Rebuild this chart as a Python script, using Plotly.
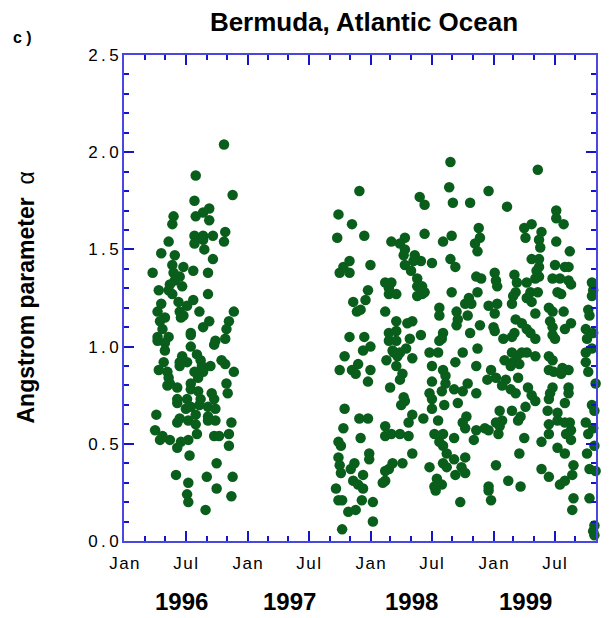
import numpy as np
import pandas as pd
import plotly.graph_objects as go

# (decimal year, Angstrom alpha)
obs_1996 = [
    (1996.81, 2.04), (1996.58, 1.88), (1996.88, 1.78), (1996.57, 1.75), (1996.69, 1.71),
    (1996.64, 1.69), (1996.58, 1.67), (1996.69, 1.65), (1996.40, 1.67), (1996.39, 1.63),
    (1996.82, 1.59), (1996.81, 1.54), (1996.57, 1.57), (1996.64, 1.57), (1996.72, 1.57),
    (1996.57, 1.53), (1996.64, 1.55), (1996.36, 1.54), (1996.30, 1.48), (1996.41, 1.47),
    (1996.65, 1.50), (1996.72, 1.45), (1996.39, 1.42), (1996.23, 1.38), (1996.48, 1.41),
    (1996.40, 1.38), (1996.56, 1.39), (1996.68, 1.38), (1996.45, 1.36), (1996.41, 1.34),
    (1996.37, 1.32), (1996.47, 1.31), (1996.28, 1.29), (1996.36, 1.29), (1996.39, 1.27),
    (1996.68, 1.27), (1996.44, 1.23), (1996.56, 1.24), (1996.51, 1.21), (1996.30, 1.22),
    (1996.27, 1.18), (1996.45, 1.18), (1996.48, 1.16), (1996.61, 1.18), (1996.89, 1.18),
    (1996.33, 1.15), (1996.29, 1.13), (1996.46, 1.15), (1996.85, 1.13), (1996.69, 1.13),
    (1996.64, 1.10), (1996.83, 1.09), (1996.31, 1.09), (1996.54, 1.07), (1996.27, 1.05),
    (1996.36, 1.05), (1996.82, 1.04), (1996.74, 1.03), (1996.27, 1.03), (1996.33, 1.02),
    (1996.54, 1.06), (1996.54, 1.00), (1996.73, 1.01), (1996.33, 0.98), (1996.47, 0.95),
    (1996.59, 0.96), (1996.32, 0.92), (1996.45, 0.92), (1996.51, 0.92), (1996.62, 0.93),
    (1996.79, 0.93), (1996.28, 0.88), (1996.45, 0.90), (1996.70, 0.90), (1996.82, 0.91),
    (1996.63, 0.90), (1996.35, 0.87), (1996.57, 0.87), (1996.64, 0.87), (1996.89, 0.87),
    (1996.36, 0.84), (1996.60, 0.84), (1996.37, 0.81), (1996.54, 0.81), (1996.83, 0.81),
    (1996.35, 0.80), (1996.43, 0.79), (1996.54, 0.78), (1996.60, 0.77), (1996.84, 0.76),
    (1996.71, 0.76), (1996.43, 0.73), (1996.51, 0.73), (1996.62, 0.73), (1996.73, 0.73),
    (1996.43, 0.71), (1996.61, 0.70), (1996.68, 0.69), (1996.50, 0.68), (1996.74, 0.68),
    (1996.26, 0.65), (1996.54, 0.69), (1996.58, 0.65), (1996.68, 0.64), (1996.45, 0.63),
    (1996.52, 0.62), (1996.68, 0.62), (1996.74, 0.62), (1996.43, 0.61), (1996.58, 0.60),
    (1996.87, 0.61), (1996.25, 0.57), (1996.59, 0.55), (1996.31, 0.54), (1996.73, 0.54),
    (1996.77, 0.54), (1996.85, 0.55), (1996.29, 0.52), (1996.37, 0.52), (1996.52, 0.52),
    (1996.46, 0.51), (1996.43, 0.48), (1996.85, 0.49), (1996.53, 0.44), (1996.75, 0.40),
    (1996.42, 0.34), (1996.67, 0.33), (1996.88, 0.33), (1996.52, 0.30), (1996.75, 0.27),
    (1996.51, 0.24), (1996.87, 0.23), (1996.52, 0.20), (1996.66, 0.16),
]

obs_1998 = [
    (1998.65, 1.95), (1998.64, 1.82), (1998.67, 1.74), (1997.91, 1.80), (1998.40, 1.77),
    (1998.44, 1.73), (1997.74, 1.68), (1997.85, 1.63), (1997.73, 1.56), (1997.95, 1.57),
    (1998.44, 1.58), (1998.17, 1.54), (1998.28, 1.56), (1998.24, 1.53), (1998.28, 1.50),
    (1998.27, 1.47), (1998.59, 1.54), (1998.66, 1.57), (1998.36, 1.47), (1998.35, 1.44),
    (1998.41, 1.44), (1998.50, 1.43), (1998.28, 1.42), (1998.33, 1.39), (1997.83, 1.44),
    (1997.78, 1.41), (1997.75, 1.38), (1997.83, 1.38), (1998.00, 1.42), (1998.65, 1.45),
    (1998.38, 1.35), (1998.38, 1.31), (1998.42, 1.31), (1998.44, 1.28), (1998.38, 1.26),
    (1998.42, 1.27), (1998.12, 1.33), (1998.17, 1.33), (1998.15, 1.30), (1998.15, 1.27),
    (1998.21, 1.27), (1997.98, 1.29), (1997.96, 1.24), (1997.86, 1.23), (1997.89, 1.18),
    (1997.92, 1.19), (1998.12, 1.18), (1998.21, 1.13), (1998.30, 1.12), (1998.34, 1.13),
    (1998.56, 1.20), (1998.56, 1.16), (1998.66, 1.28), (1997.83, 1.05), (1997.95, 1.05),
    (1998.15, 1.07), (1998.21, 1.08), (1998.32, 1.04), (1998.41, 1.06), (1998.59, 1.07),
    (1998.58, 1.04), (1998.00, 1.00), (1997.94, 0.98), (1998.15, 1.03), (1998.21, 1.03),
    (1998.56, 1.03), (1998.18, 0.98), (1998.24, 0.97), (1998.29, 0.99), (1998.19, 0.97),
    (1998.22, 0.95), (1998.48, 0.97), (1998.55, 0.97), (1997.79, 0.95), (1998.13, 0.93),
    (1998.34, 0.94), (1998.21, 0.90), (1997.75, 0.88), (1997.85, 0.88), (1997.90, 0.91),
    (1997.88, 0.86), (1998.00, 0.88), (1997.98, 0.82), (1998.26, 0.86), (1998.24, 0.83),
    (1998.50, 0.90), (1998.59, 0.88), (1998.61, 0.85), (1998.50, 0.82), (1998.61, 0.81),
    (1998.16, 0.79), (1998.48, 0.76), (1998.58, 0.77), (1998.50, 0.73), (1998.27, 0.74),
    (1998.28, 0.72), (1998.25, 0.70), (1998.60, 0.70), (1997.79, 0.68), (1998.50, 0.68),
    (1998.34, 0.65), (1997.91, 0.63), (1997.98, 0.63), (1998.43, 0.63), (1998.55, 0.62),
    (1998.31, 0.61), (1998.12, 0.59), (1997.78, 0.58), (1998.52, 0.55), (1998.59, 0.55),
    (1998.12, 0.54), (1998.17, 0.55), (1998.24, 0.55), (1998.31, 0.54), (1997.92, 0.53),
    (1998.56, 0.51), (1997.74, 0.51), (1997.76, 0.49), (1998.59, 0.49), (1998.62, 0.45),
    (1998.34, 0.45), (1997.99, 0.45), (1997.99, 0.42), (1997.74, 0.43), (1997.87, 0.40),
    (1998.18, 0.40), (1998.26, 0.40), (1997.75, 0.39), (1997.84, 0.37), (1998.59, 0.40),
    (1998.62, 0.38), (1998.48, 0.38), (1997.76, 0.35), (1997.94, 0.34), (1998.12, 0.36),
    (1998.15, 0.37), (1997.86, 0.31), (1997.90, 0.29), (1997.94, 0.27), (1998.12, 0.31),
    (1998.10, 0.30), (1998.54, 0.32), (1998.58, 0.29), (1998.52, 0.28), (1998.53, 0.26),
    (1997.72, 0.27), (1997.74, 0.21), (1997.77, 0.21), (1997.93, 0.21), (1998.02, 0.20),
    (1997.82, 0.15), (1997.88, 0.16), (1998.02, 0.10), (1997.77, 0.06),
]

obs_1999 = [
    (1998.81, 1.74), (1998.96, 1.80), (1999.11, 1.72), (1999.36, 1.91), (1999.51, 1.70),
    (1999.51, 1.66), (1999.57, 1.63), (1999.85, 1.61), (1999.25, 1.61), (1999.31, 1.63),
    (1999.26, 1.56), (1999.39, 1.59), (1999.37, 1.55), (1999.51, 1.54), (1998.88, 1.61),
    (1998.89, 1.56), (1998.85, 1.53), (1998.87, 1.49), (1999.38, 1.51), (1999.62, 1.49),
    (1999.31, 1.45), (1999.37, 1.45), (1998.69, 1.41), (1999.50, 1.42), (1999.58, 1.41),
    (1999.61, 1.41), (1999.37, 1.41), (1999.35, 1.39), (1999.37, 1.36), (1998.86, 1.36),
    (1998.90, 1.35), (1999.01, 1.38), (1999.02, 1.34), (1999.03, 1.31), (1999.17, 1.37),
    (1999.19, 1.33), (1999.27, 1.33), (1999.34, 1.35), (1999.48, 1.35), (1999.54, 1.35),
    (1999.61, 1.34), (1999.63, 1.32), (1999.80, 1.33), (1999.81, 1.29), (1999.80, 1.26),
    (1998.87, 1.28), (1998.80, 1.25), (1998.77, 1.22), (1998.82, 1.22), (1999.18, 1.28),
    (1999.16, 1.26), (1999.15, 1.22), (1999.30, 1.28), (1999.36, 1.28), (1999.27, 1.25),
    (1999.31, 1.23), (1999.52, 1.28), (1999.55, 1.27), (1999.03, 1.22), (1998.96, 1.21),
    (1998.70, 1.18), (1998.79, 1.16), (1999.01, 1.17), (1999.34, 1.17), (1999.45, 1.20),
    (1999.48, 1.18), (1999.57, 1.18), (1999.77, 1.19), (1999.78, 1.16), (1998.71, 1.14),
    (1999.18, 1.14), (1999.23, 1.12), (1999.46, 1.13), (1999.48, 1.10), (1999.63, 1.12),
    (1999.58, 1.09), (1998.70, 1.11), (1998.89, 1.11), (1999.00, 1.10), (1999.01, 1.08),
    (1999.27, 1.09), (1999.75, 1.09), (1998.81, 1.07), (1999.17, 1.07), (1999.15, 1.05),
    (1999.30, 1.07), (1999.48, 1.06), (1999.81, 1.07), (1999.08, 1.04), (1999.34, 1.04),
    (1999.50, 1.04), (1999.76, 1.04), (1999.87, 1.04), (1998.75, 0.97), (1998.87, 0.99),
    (1998.69, 0.92), (1998.86, 0.90), (1998.98, 0.88), (1999.09, 0.93), (1999.15, 0.97),
    (1999.19, 0.95), (1999.23, 0.97), (1999.27, 0.97), (1999.34, 0.95), (1999.16, 0.92),
    (1999.21, 0.91), (1999.14, 0.90), (1999.45, 0.95), (1999.48, 0.93), (1999.45, 0.88),
    (1999.49, 0.87), (1999.56, 0.89), (1999.61, 0.88), (1999.55, 0.86), (1999.75, 0.97),
    (1999.80, 0.99), (1999.75, 0.92), (1999.77, 0.87), (1999.87, 0.88), (1998.95, 0.83),
    (1999.02, 0.84), (1999.10, 0.83), (1999.07, 0.80), (1999.14, 0.78), (1999.18, 0.76),
    (1998.79, 0.81), (1998.68, 0.78), (1998.75, 0.77), (1998.86, 0.76), (1999.20, 0.84),
    (1999.28, 0.79), (1999.31, 0.75), (1999.34, 0.72), (1999.48, 0.79), (1999.46, 0.76),
    (1999.45, 0.73), (1999.61, 0.79), (1999.61, 0.76), (1999.58, 0.71), (1999.83, 0.81),
    (1998.71, 0.71), (1999.26, 0.69), (1999.15, 0.67), (1999.05, 0.67), (1999.44, 0.67),
    (1999.52, 0.66), (1999.80, 0.70), (1999.82, 0.67), (1998.78, 0.64), (1998.75, 0.61),
    (1998.77, 0.58), (1999.22, 0.64), (1999.20, 0.62), (1999.02, 0.61), (1999.07, 0.62),
    (1999.05, 0.59), (1999.04, 0.55), (1998.93, 0.58), (1998.96, 0.57), (1998.86, 0.57),
    (1998.84, 0.52), (1999.45, 0.60), (1999.45, 0.55), (1999.52, 0.62), (1999.58, 0.61),
    (1999.62, 0.61), (1999.63, 0.57), (1999.59, 0.55), (1999.63, 0.52), (1999.25, 0.53),
    (1999.39, 0.51), (1999.75, 0.61), (1999.77, 0.55), (1999.81, 0.58), (1999.82, 0.49),
    (1998.68, 0.53), (1998.68, 0.42), (1998.77, 0.43), (1998.74, 0.38), (1998.69, 0.34),
    (1998.77, 0.35), (1999.21, 0.45), (1999.02, 0.39), (1999.52, 0.48), (1999.58, 0.45),
    (1999.39, 0.37), (1999.45, 0.33), (1999.65, 0.39), (1999.64, 0.34), (1999.76, 0.45),
    (1999.78, 0.37), (1999.83, 0.36), (1999.12, 0.31), (1998.96, 0.28), (1999.22, 0.28),
    (1998.96, 0.26), (1999.54, 0.29), (1999.58, 0.31), (1998.98, 0.21), (1998.73, 0.20),
    (1999.65, 0.22), (1999.78, 0.22), (1999.85, 0.21), (1999.64, 0.16), (1999.82, 0.08),
    (1999.81, 0.05), (1999.82, 0.03),
]

x_tick_dates = ["1996-01-01", "1996-07-01", "1997-01-01", "1997-07-01",
                "1998-01-01", "1998-07-01", "1999-01-01", "1999-07-01"]
x_tick_text = ["Jan", "Jul", "Jan", "Jul", "Jan", "Jul", "Jan", "Jul"]
y_tick_vals = [0.0, 0.5, 1.0, 1.5, 2.0, 2.5]
year_labels = ["1996", "1997", "1998", "1999"]
year_label_pos = ["1996-06-18", "1997-05-05", "1998-05-01", "1999-04-05"]


def to_dates(dec_years):
    y = np.asarray(dec_years)
    return pd.Timestamp("1996-01-01") + pd.to_timedelta((y - 1996) * 365.25, unit="D")


def spaced(s, sep="\u2009"):
    # the original labels are set with loose letter spacing
    return sep.join(s)


pts = obs_1996 + obs_1998 + obs_1999
x = to_dates([p[0] for p in pts])
alpha = [p[1] for p in pts]

fig = go.Figure()
fig.add_trace(go.Scatter(
    x=x, y=alpha, mode="markers", cliponaxis=False,
    marker=dict(size=10.5, color="#0a5e1b", line=dict(width=0)),
    showlegend=False,
))

axis_blue = "#4848e0"
tick_blue = "#1414c8"
font_family = "Liberation Sans, Arial, sans-serif"

fig.update_layout(
    width=607, height=610,
    margin=dict(l=116, r=19, t=47, b=77, autoexpand=False),
    paper_bgcolor="white", plot_bgcolor="white",
    font=dict(family=font_family, color="black"),
    title=dict(text="<b>Bermuda, Atlantic Ocean</b>", x=0.5865, xanchor="center",
               y=0.978, yanchor="middle", font=dict(size=26, color="black")),
    xaxis=dict(
        type="date", range=["1995-12-31", "1999-11-01"],
        tickvals=x_tick_dates, ticktext=[spaced(t, "\u200a") for t in x_tick_text],
        ticks="inside", ticklen=10, tickwidth=2, tickcolor=tick_blue,
        minor=dict(dtick="M2", tick0="1996-01-01", ticks="inside", ticklen=5,
                   tickwidth=2, tickcolor=tick_blue),
        showline=True, linecolor=axis_blue, linewidth=2, mirror="ticks",
        showgrid=False, zeroline=False, automargin=False,
        ticklabelstandoff=6,
        tickfont=dict(size=17, color="black"),
    ),
    yaxis=dict(
        range=[0, 2.5],
        tickvals=y_tick_vals, ticktext=[spaced(f"{v:.1f}") for v in y_tick_vals],
        ticks="inside", ticklen=10, tickwidth=2, tickcolor=tick_blue,
        minor=dict(dtick=0.1, ticks="inside", ticklen=5, tickwidth=2, tickcolor=tick_blue),
        showline=True, linecolor=axis_blue, linewidth=2, mirror="ticks",
        showgrid=False, zeroline=False, automargin=False,
        tickfont=dict(size=17, color="black"),
    ),
)

annotations = [
    dict(text="<b>c )</b>", xref="paper", yref="paper", x=-0.216, y=1.037,
         xanchor="center", yanchor="middle", showarrow=False, font=dict(size=16)),
    dict(text="<b>Angstrom parameter</b>  α", xref="paper", yref="paper",
         x=-0.2076, y=0.501, xanchor="center", yanchor="middle", textangle=-90,
         showarrow=False, font=dict(size=23)),
]
for lab, pos in zip(year_labels, year_label_pos):
    annotations.append(dict(text=f"<b>{lab}</b>", xref="x", yref="paper", x=pos, y=-0.1235,
                            xanchor="center", yanchor="middle", showarrow=False,
                            font=dict(size=24)))
fig.update_layout(annotations=annotations)

fig.write_html("out.html")
